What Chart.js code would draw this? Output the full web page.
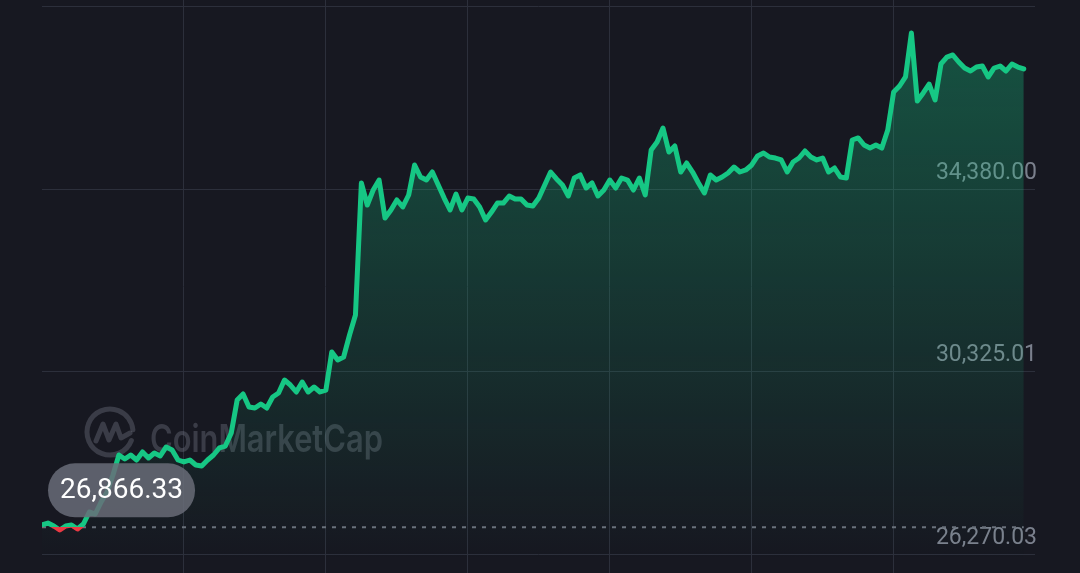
<!DOCTYPE html>
<html>
<head>
<meta charset="utf-8">
<script src="https://cdn.jsdelivr.net/npm/chart.js@4.4.0/dist/chart.umd.min.js"></script>
<style>
    html, body { margin: 0; padding: 0; background: #171821; }
    #wrap { width: 1080px; height: 573px; }
</style>
</head>
<body>
<div id="wrap"><canvas id="priceChart" width="1080" height="573"></canvas></div>
<script>
// ======================================
// DATA (hourly prices)
// ======================================
const prices = [
    26919, 26963, 26897, 26808, 26897, 26919, 26830, 26941, 27208, 27163,
    27430, 27652, 28030, 28474, 28385, 28474, 28363, 28541, 28408, 28519,
    28452, 28652, 28585, 28363, 28319, 28363, 28252, 28230, 28363, 28474,
    28630, 28674, 28963, 29696, 29829, 29541, 29518, 29607, 29518, 29763,
    29852, 30141, 30029, 29874, 30096, 29874, 29985, 29874, 29918, 30763,
    30585, 30652, 31140, 31585, 34518, 34029, 34362, 34584, 33740, 33918,
    34140, 33985, 34251, 34918, 34651, 34584, 34762, 34473, 34184, 33918,
    34273, 33918, 34184, 34162, 33985, 33696, 33873, 34073, 34073, 34229,
    34162, 34162, 34029, 34007, 34184, 34473, 34762, 34607, 34473, 34229,
    34629, 34696, 34407, 34518, 34229, 34362, 34584, 34407, 34629, 34584,
    34362, 34629, 34251, 35251, 35429, 35740, 35207, 35340, 34762, 34962,
    34762, 34518, 34296, 34696, 34584, 34651, 34740, 34873, 34762, 34807,
    34918, 35118, 35184, 35096, 35073, 35029, 34762, 34984, 35073, 35229,
    35096, 35029, 35073, 34762, 34851, 34651, 34629, 35473, 35518, 35362,
    35295, 35362, 35295, 35695, 36540, 36673, 36873, 37851, 36340, 36518,
    36717, 36362, 37162, 37317, 37362, 37206, 37073, 37006, 37095, 37117,
    36873, 37073, 37117, 37006, 37162, 37095, 37051
];
const openPrice = 26866.33;
const yTicks = [26270.03, 30325.01, 34380.00, 38434.98];
const xTicks = [24, 48, 72, 96, 120, 144];   // one vertical line per day

const GREEN = "#16c784";
const RED = "#ea3943";
const GRID = "#2c2f3b";

const fmt = v => v.toLocaleString("en-US", { minimumFractionDigits: 2, maximumFractionDigits: 2 });

// ======================================
// OVERLAYS: watermark, open-price line, price pill
// ======================================
const overlayPlugin = {
    id: "overlay",
    beforeDatasetsDraw(chart) {
        const { ctx, chartArea, scales } = chart;
        ctx.save();

        // CoinMarketCap watermark
        const cx = 110, cy = 432;
        ctx.strokeStyle = "rgba(130,134,148,0.33)";
        ctx.lineWidth = 5;
        ctx.lineCap = "round";
        ctx.lineJoin = "round";
        ctx.beginPath();
        ctx.arc(cx, cy, 23, 0.12 * Math.PI, 1.97 * Math.PI);
        ctx.stroke();
        ctx.beginPath();
        ctx.moveTo(cx - 14, cy + 9);
        ctx.lineTo(cx - 7, cy - 8);
        ctx.lineTo(cx - 1, cy + 8);
        ctx.lineTo(cx + 6, cy - 8);
        ctx.lineTo(cx + 11, cy + 6);
        ctx.lineTo(cx + 20, cy + 1);
        ctx.stroke();

        ctx.fillStyle = "rgba(130,134,148,0.33)";
        let size = 40;
        ctx.font = `600 ${size}px Inter`;
        const w = ctx.measureText("CoinMarketCap").width;
        size = size * 233 / w;
        ctx.font = `600 ${size}px Inter`;
        ctx.textBaseline = "alphabetic";
        ctx.textAlign = "left";
        ctx.translate(150, 452);
        ctx.scale(1, 1.25);
        ctx.fillText("CoinMarketCap", 0, 0);
        ctx.setTransform(1, 0, 0, 1, 0, 0);

        // dotted open-price line
        const y = scales.y.getPixelForValue(openPrice);
        const xEnd = scales.x.getPixelForValue(prices.length - 1);
        ctx.strokeStyle = "#6c707c";
        ctx.lineWidth = 2;
        ctx.lineCap = "butt";
        ctx.setLineDash([4, 6]);
        ctx.beginPath();
        ctx.moveTo(chartArea.left, y);
        ctx.lineTo(xEnd, y);
        ctx.stroke();
        ctx.restore();
    },
    afterDatasetsDraw(chart) {
        const { ctx, chartArea, scales } = chart;
        const y = scales.y.getPixelForValue(openPrice);
        const text = fmt(openPrice);
        ctx.save();
        ctx.font = "28px Roboto";
        const tw = ctx.measureText(text).width;
        const h = 54;
        const left = chartArea.left + 6;
        const top = y - 10 - h;
        const w = tw + 24;
        ctx.fillStyle = "rgba(104,108,120,0.85)";
        ctx.beginPath();
        ctx.roundRect(left, top, w, h, h / 2);
        ctx.fill();
        ctx.fillStyle = "#ffffff";
        ctx.textAlign = "center";
        ctx.textBaseline = "middle";
        ctx.fillText(text, left + w / 2, top + h / 2 + 1);
        ctx.restore();
    }
};

// green above the open price, red below it
function lineColor(c) {
    const { chart } = c;
    const { chartArea, scales } = chart;
    if (!chartArea) return GREEN;
    const y = scales.y.getPixelForValue(openPrice);
    const t = Math.min(Math.max((y - chartArea.top) / (chartArea.bottom - chartArea.top), 0), 1);
    const g = chart.ctx.createLinearGradient(0, chartArea.top, 0, chartArea.bottom);
    g.addColorStop(0, GREEN);
    g.addColorStop(t, GREEN);
    g.addColorStop(t, RED);
    g.addColorStop(1, RED);
    return g;
}

// ======================================
// CHART
// ======================================
const ctx = document.getElementById("priceChart").getContext("2d");

new Chart(ctx, {
    type: "line",
    data: {
        datasets: [{
            data: prices.map((p, i) => ({ x: i, y: p })),
            borderColor: lineColor,
            borderWidth: 5,
            borderJoinStyle: "round",
            borderCapStyle: "round",
            pointRadius: 0,
            tension: 0,
            fill: "start",
            backgroundColor: (c) => {
                const g = c.chart.ctx.createLinearGradient(0, 0, 0, 560);
                g.addColorStop(0, "rgba(22,199,132,0.36)");
                g.addColorStop(1, "rgba(22,199,132,0)");
                return g;
            }
        }]
    },
    options: {
        responsive: false,
        animation: false,
        devicePixelRatio: 1,
        layout: { padding: { left: 42, right: 41, top: 0, bottom: 0 } },
        plugins: {
            legend: { display: false },
            tooltip: { enabled: false }
        },
        scales: {
            x: {
                type: "linear",
                min: 0,
                max: 167.9,
                afterBuildTicks: s => { s.ticks = xTicks.map(v => ({ value: v })); },
                ticks: { display: false },
                grid: { color: GRID, drawTicks: false, lineWidth: 1 },
                border: { display: false }
            },
            y: {
                position: "right",
                min: 25852.3,
                max: 38583.8,
                afterBuildTicks: s => { s.ticks = yTicks.map(v => ({ value: v })); },
                afterFit: s => { s.paddingTop = 0; s.paddingBottom = 0; },
                ticks: {
                    mirror: true,
                    padding: 2,
                    labelOffset: -16,
                    color: "#7b808d",
                    font: { family: "Roboto", size: 23 },
                    callback: v => fmt(v)
                },
                grid: { color: GRID, drawTicks: false, lineWidth: 1 },
                border: { display: false }
            }
        }
    },
    plugins: [overlayPlugin]
});
</script>
</body>
</html>
